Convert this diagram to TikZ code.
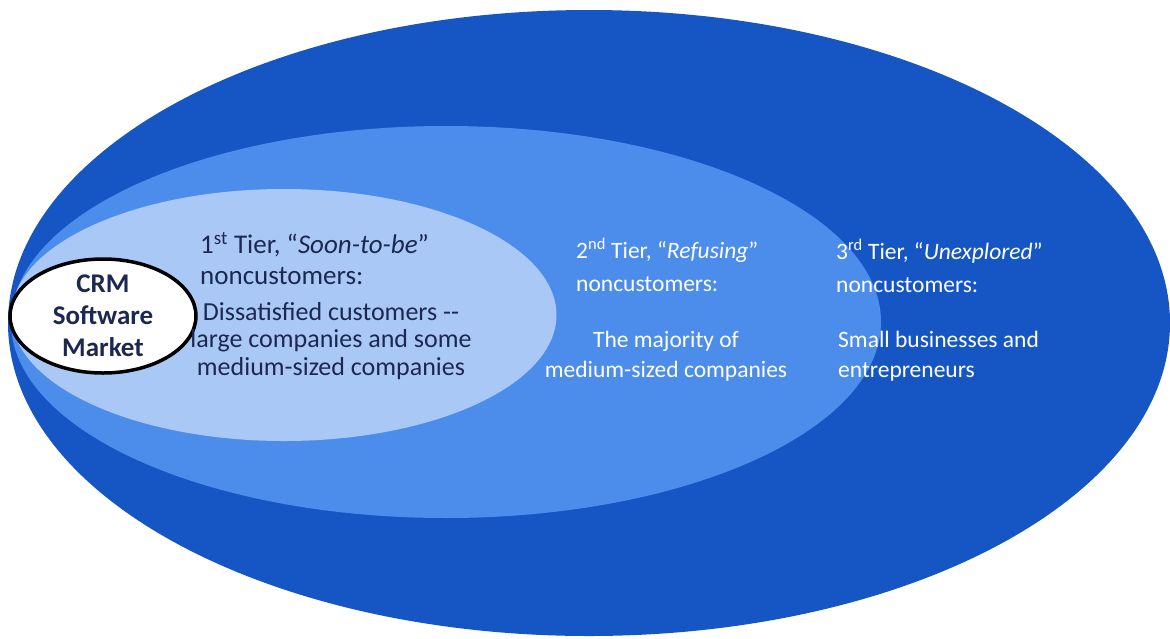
\documentclass[tikz,border=0pt]{standalone}
\usepackage{fontspec}
\setmainfont{Carlito}
\usetikzlibrary{shapes.geometric, positioning}
\usepackage{xcolor}
\definecolor{unexploredBlue}{RGB}{22,86,196}
\definecolor{refusingBlue}{RGB}{76,141,235}
\definecolor{soonBlue}{RGB}{170,200,245}
\definecolor{navyText}{RGB}{28,40,82}

\begin{document}
\begin{tikzpicture}[
    x=1pt, y=-1pt,
    tier/.style={ellipse, draw=none, inner sep=0pt},
    headtext/.style={anchor=west, align=left, inner sep=0pt},
    bodytext/.style={align=center, inner sep=0pt}
]
\useasboundingbox (0,0) rectangle (1170,638);

% Tier ellipses
\node[tier, fill=unexploredBlue, minimum width=1162pt, minimum height=626pt] (unexplored) at (589,323) {};
\node[tier, fill=refusingBlue, minimum width=870pt, minimum height=392pt] (refusing) at (446,322) {};
\node[tier, fill=soonBlue, minimum width=545pt, minimum height=252pt] (soon) at (284,315) {};

% Current market
\node[ellipse, draw=black, fill=white, line width=3.5pt, inner sep=0pt, minimum width=186pt, minimum height=114pt] (market) at (103,316) {};
\node[bodytext, text=navyText, font=\fontsize{27}{32}\selectfont\bfseries] (marketlabel) at (market.center) {CRM\\Software\\Market};

% 1st Tier
\node[headtext, text=navyText, font=\fontsize{27}{31}\selectfont] (soonhead) at (200,259)
    {1\textsuperscript{st} Tier, “\textit{Soon-to-be}”\\noncustomers:};
\node[bodytext, text=navyText, font=\fontsize{26}{27.5}\selectfont] (soonbody) at (331,341)
    {Dissatisfied customers -{}-\\large companies and some\\medium-sized companies};

% 2nd Tier
\node[headtext, text=white, font=\fontsize{23.5}{33}\selectfont] (refusinghead) at (576,265)
    {2\textsuperscript{nd} Tier, “\textit{Refusing}”\\noncustomers:};
\node[bodytext, text=white, font=\fontsize{23.5}{30}\selectfont] (refusingbody) at (666,356)
    {The majority of\\medium-sized companies};

% 3rd Tier
\node[headtext, text=white, font=\fontsize{23.5}{33}\selectfont] (unexploredhead) at (836,266)
    {3\textsuperscript{rd} Tier, “\textit{Unexplored}”\\noncustomers:};
\node[headtext, text=white, font=\fontsize{23.5}{30}\selectfont] (unexploredbody) at (838,356)
    {Small businesses and\\entrepreneurs};
\end{tikzpicture}
\end{document}
